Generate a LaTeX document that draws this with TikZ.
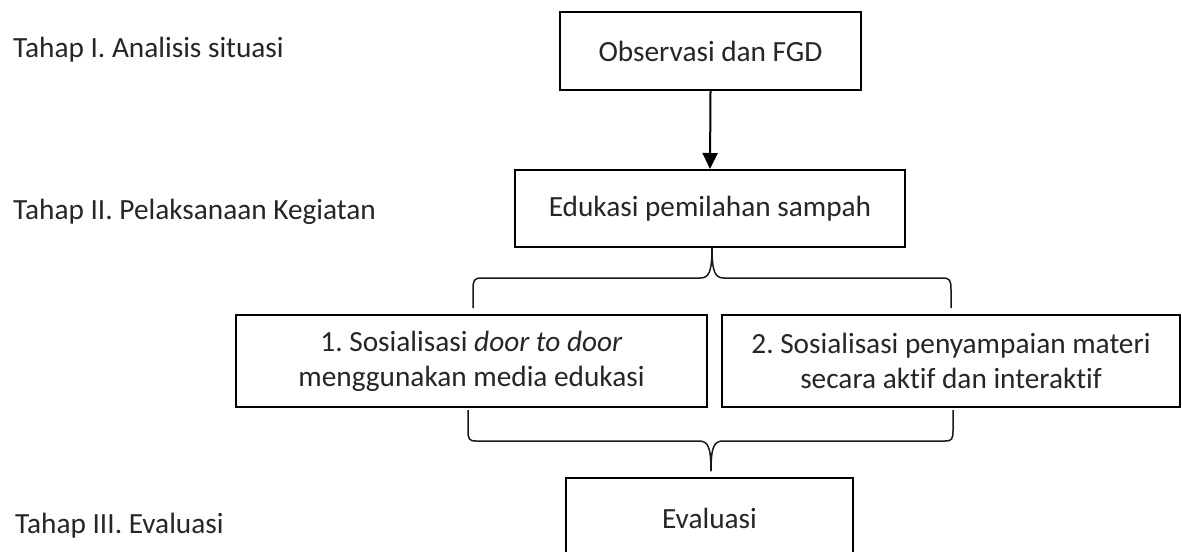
\documentclass[tikz,border=0pt]{standalone}
\usepackage{fontspec}
\setmainfont{Carlito}[Ligatures=NoCommon]
\usetikzlibrary{arrows.meta}
\begin{document}
\frenchspacing
\begin{tikzpicture}[x=1pt,y=-1pt,
  every node/.style={font=\fontsize{29.3}{35}\selectfont\frenchspacing, text=black!85},
  stepbox/.style={draw=black, line width=2pt, inner sep=0pt, align=center},
  lbl/.style={anchor=base west, inner sep=0pt},
  brace/.style={draw=black!90, line width=1.5pt, line join=round},
  arr/.style={draw=black, line width=2pt, -{Triangle[length=16pt,width=15pt]}}]
\clip (0,0) rectangle (1182,551);
\fill[white] (0,0) rectangle (1182,551);

\node[lbl] (l1) at (13,57) {Tahap I. Analisis situasi};
\node[lbl] (l2) at (13,219) {Tahap II. Pelaksanaan Kegiatan};
\node[lbl] (l3) at (15,533) {Tahap III. Evaluasi};

\node[stepbox, minimum width=301pt, minimum height=78pt] (obs) at (710.5,51) {Observasi dan FGD};
\node[stepbox, minimum width=390pt, minimum height=77pt] (edu) at (710,208.5) {Edukasi pemilahan sampah};
\node[stepbox, minimum width=471pt, minimum height=92pt] (sa) at (471.5,361) {1. Sosialisasi \textit{door to door}\\menggunakan media edukasi};
\node[stepbox, minimum width=458pt, minimum height=92pt] (sb) at (951,361) {2. Sosialisasi penyampaian materi\\secara aktif dan interaktif};
\node[stepbox, minimum width=287pt, minimum height=80pt] (ev) at (709.5,518) {Evaluasi};

\draw[arr] (obs.south) -- (edu.north);

% top brace
\coordinate (tm) at (712,247);
\coordinate (tl) at (473,308);
\coordinate (tr) at (951,308);
\draw[brace] (tl) -- (473,290) .. controls (473,280) and (474,278) .. (482,278)
  -- (700,278) .. controls (709,278) and (712,272) .. (tm);
\draw[brace] (tr) -- (951,290) .. controls (951,280) and (950,278) .. (942,278)
  -- (724,278) .. controls (715,278) and (712,272) .. (tm);

% bottom brace
\coordinate (bm) at (711,471);
\coordinate (bl) at (468,410);
\coordinate (br) at (953,410);
\draw[brace] (bl) -- (468,430) .. controls (468,439) and (469,441) .. (476,441)
  -- (699,441) .. controls (708,441) and (711,447) .. (bm);
\draw[brace] (br) -- (953,430) .. controls (953,439) and (952,441) .. (945,441)
  -- (723,441) .. controls (714,441) and (711,447) .. (bm);
\end{tikzpicture}
\end{document}
